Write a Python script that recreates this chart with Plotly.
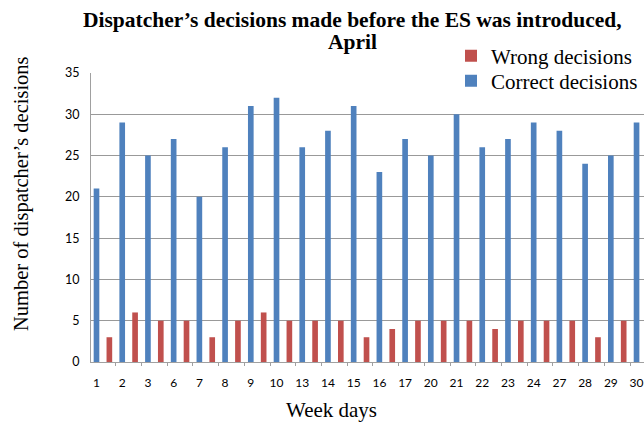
import plotly.graph_objects as go

days = ["1", "2", "3", "6", "7", "8", "9", "10", "13", "14", "15", "16", "17",
        "20", "21", "22", "23", "24", "27", "28", "29", "30"]
correct = [21, 29, 25, 27, 20, 26, 31, 32, 26, 28, 31, 23, 27,
           25, 30, 26, 27, 29, 28, 24, 25, 29]
wrong = [3, 6, 5, 5, 3, 5, 6, 5, 5, 5, 3, 4, 5,
         5, 5, 4, 5, 5, 5, 3, 5, 5]

pos = list(range(len(days)))
BLUE = "#4F81BD"
RED = "#C0504D"
SERIF = "Liberation Serif, Times New Roman, serif"
SANS = "Lato, Liberation Sans, sans-serif"

W, H = 644, 424
L, R, T, B = 91, 0, 73, 62
PW, PH = W - L - R, H - T - B


def px(x):
    return (x - L) / PW


def py(y):
    return (H - B - y) / PH


fig = go.Figure()
fig.add_trace(go.Bar(name="Wrong decisions", x=[p + 0.5 for p in pos], y=wrong,
                     width=0.22, marker=dict(color=RED, line=dict(width=0)),
                     legend="legend", showlegend=True))
fig.add_trace(go.Bar(name="Correct decisions", x=pos, y=correct,
                     width=0.22, marker=dict(color=BLUE, line=dict(width=0)),
                     legend="legend2", showlegend=True))

leg_common = dict(xref="paper", yref="paper", xanchor="left", yanchor="middle",
                  bgcolor="rgba(0,0,0,0)", visible=True,
                  font=dict(family=SERIF, size=21, color="black"))

fig.update_layout(
    width=W, height=H,
    margin=dict(l=L, r=R, t=T, b=B, autoexpand=False),
    paper_bgcolor="white", plot_bgcolor="white",
    barmode="overlay",
    showlegend=True,
    legend=dict(x=px(451), y=py(56), **leg_common),
    legend2=dict(x=px(451), y=py(81), **leg_common),
    xaxis=dict(range=[-0.214, 21.29], tickmode="array", tickvals=pos, ticktext=days,
               showgrid=False, zeroline=False, showline=True, linecolor="#a0a0a0",
               linewidth=1, ticks="", ticklabelstandoff=10,
               tickfont=dict(family=SANS, size=12, color="black"),
               minor=dict(tickmode="array", tickvals=[p + 0.75 for p in pos],
                          ticks="outside", ticklen=3, tickcolor="#a0a0a0", showgrid=False)),
    yaxis=dict(range=[0, 35], dtick=5, tick0=0, showgrid=True, gridcolor="#999999",
               gridwidth=1.3, zeroline=False, showline=True, linecolor="#a0a0a0",
               linewidth=1, ticks="", ticklabelstandoff=8,
               tickfont=dict(family=SANS, size=12.5, color="black")),
    annotations=[
        dict(text="<b>Dispatcher’s decisions made before the ES was introduced,</b>",
             x=px(352), y=py(20), xref="paper", yref="paper", xanchor="center",
             yanchor="middle", showarrow=False,
             font=dict(family=SERIF, size=21.5, color="black")),
        dict(text="<b>April</b>",
             x=px(352), y=py(42), xref="paper", yref="paper", xanchor="center",
             yanchor="middle", showarrow=False,
             font=dict(family=SERIF, size=21.5, color="black")),
        dict(text="Week days", x=px(331), y=py(410), xref="paper", yref="paper",
             xanchor="center", yanchor="middle", showarrow=False,
             font=dict(family=SERIF, size=21, color="black")),
        dict(text="Number of dispatcher’s decisions", textangle=-90,
             x=px(21), y=py(194), xref="paper", yref="paper", xanchor="center",
             yanchor="middle", showarrow=False,
             font=dict(family=SERIF, size=20.5, color="black")),
    ],
)

fig.write_html("out.html", config={"displayModeBar": False},
               post_script="document.body.style.margin='0';document.body.style.padding='0';")
